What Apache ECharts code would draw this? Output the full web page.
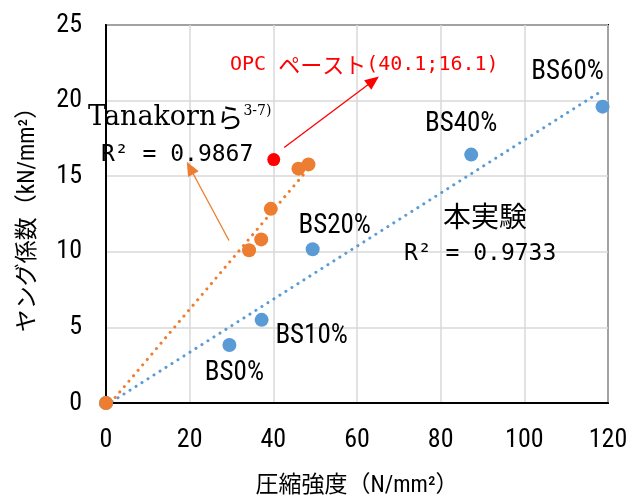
<!DOCTYPE html>
<html>
<head>
<meta charset="utf-8">
<script src="https://cdn.jsdelivr.net/npm/echarts@6/dist/echarts.min.js"></script>
<style>
  html, body { margin: 0; padding: 0; background: #ffffff; }
  #chart { width: 634px; height: 503px; }
</style>
</head>
<body>
<div id="chart"></div>
<script>
// Compressive strength (N/mm2) vs Young's modulus (kN/mm2)
const xTicks = [0, 20, 40, 60, 80, 100, 120];
const yTicks = [0, 5, 10, 15, 20, 25];

// This study (BS replacement ratios), origin included in the fit
const studyNames    = ['', 'BS0%', 'BS10%', 'BS20%', 'BS40%', 'BS60%'];
const studyStrength = [0, 29.5, 37.2, 49.4, 87.3, 118.7];
const studyModulus  = [0, 3.84, 5.5, 10.17, 16.43, 19.6];

// Tanakorn et al. reference data
const refStrength = [0, 34.2, 37.1, 39.4, 46.0, 48.4];
const refModulus  = [0, 10.1, 10.82, 12.84, 15.5, 15.78];

// OPC paste
const opcStrength = [40.1];
const opcModulus  = [16.1];

// Linear trend lines (end points)
const studyTrendX = [0, 118.7];
const studyTrendY = [-0.16, 20.67];
const refTrendX   = [0, 48.4];
const refTrendY   = [-0.35, 15.5];

const BLUE = '#5B9BD5';
const ORANGE = '#ED7D31';
const RED = '#FF0000';
const NUM_FONT = "'Liberation Sans Narrow', 'Roboto Condensed', Roboto, sans-serif";
const CJK_FONT = "'Noto Sans CJK JP', sans-serif";
const MONO_FONT = "'DejaVu Sans Mono', monospace";

const zip = (xs, ys) => xs.map((x, i) => [x, ys[i]]);

// label offsets for the BS points
const bsLabelOffsets = [[0, 0], [5, 28], [50, 16], [22, -23], [-10, -30], [-35, -34]];

const studyData = studyStrength.map((x, i) => ({
  value: [x, studyModulus[i]],
  label: {
    show: studyNames[i] !== '',
    formatter: studyNames[i],
    position: 'inside',
    offset: bsLabelOffsets[i]
  }
}));

const chart = echarts.init(document.getElementById('chart'), null, { renderer: 'canvas' });

const option = {
  backgroundColor: '#ffffff',
  animation: false,
  grid: {
    left: 106, right: 26, top: 25, bottom: 92,
    show: true, borderColor: '#000000', borderWidth: 2
  },
  xAxis: {
    type: 'value',
    min: xTicks[0], max: xTicks[xTicks.length - 1], interval: 20,
    name: '圧縮強度（N/mm²）',
    nameLocation: 'middle',
    nameGap: 72,
    nameTextStyle: { fontFamily: NUM_FONT + ", " + CJK_FONT, fontSize: 23, color: '#000' },
    axisLine: { show: true, onZero: false, lineStyle: { color: '#000', width: 2 } },
    axisTick: { show: false },
    axisLabel: { fontFamily: NUM_FONT, fontSize: 26, color: '#000', margin: 24 },
    splitLine: { show: true, lineStyle: { color: '#D9D9D9', width: 1.5 } }
  },
  yAxis: {
    type: 'value',
    min: yTicks[0], max: yTicks[yTicks.length - 1], interval: 5,
    name: 'ヤング係数（kN/mm²）',
    nameLocation: 'middle',
    nameGap: 66,
    nameTextStyle: { fontFamily: NUM_FONT + ", " + CJK_FONT, fontSize: 23, color: '#000' },
    axisLine: { show: true, onZero: false, lineStyle: { color: '#000', width: 2 } },
    axisTick: { show: false },
    axisLabel: { fontFamily: NUM_FONT, fontSize: 26, color: '#000', margin: 24 },
    splitLine: { show: true, lineStyle: { color: '#D9D9D9', width: 1.5 } }
  },
  series: [
    {
      name: 'studyTrend',
      type: 'line',
      data: zip(studyTrendX, studyTrendY),
      symbol: 'none',
      clip: true,
      lineStyle: { color: BLUE, width: 3, type: [0.1, 7], cap: 'round' },
      z: 2
    },
    {
      name: 'refTrend',
      type: 'line',
      data: zip(refTrendX, refTrendY),
      symbol: 'none',
      clip: true,
      lineStyle: { color: ORANGE, width: 3, type: [0.1, 7], cap: 'round' },
      z: 2
    },
    {
      name: '本実験',
      type: 'scatter',
      data: studyData,
      symbolSize: 14,
      itemStyle: { color: BLUE, opacity: 1 },
      label: { color: '#000', fontFamily: NUM_FONT, fontSize: 27 },
      z: 3
    },
    {
      name: 'Tanakorn',
      type: 'scatter',
      data: zip(refStrength, refModulus),
      symbolSize: 14,
      itemStyle: { color: ORANGE, opacity: 1 },
      z: 4,
      markLine: {
        silent: true,
        symbol: ['none', 'triangle'],
        symbolSize: [12, 14],
        label: { show: false },
        lineStyle: { color: ORANGE, width: 1.3, type: 'solid' },
        data: [[{ coord: [29.4, 10.75] }, { coord: [20.1, 15.54] }]]
      }
    },
    {
      name: 'OPC',
      type: 'scatter',
      data: zip(opcStrength, opcModulus),
      symbolSize: 13,
      itemStyle: { color: RED, opacity: 1 },
      z: 4,
      markLine: {
        silent: true,
        symbol: ['none', 'triangle'],
        symbolSize: [12, 14],
        label: { show: false },
        lineStyle: { color: RED, width: 1.3, type: 'solid' },
        data: [[{ coord: [42.6, 16.9] }, { coord: [63.9, 21.31] }]]
      }
    }
  ],
  graphic: [
    {
      type: 'text', left: 230, top: 54, z: 10,
      style: {
        text: '{a|OPC }{b|ペースト}{a|(40.1;16.1)}',
        rich: {
          a: { fontFamily: MONO_FONT, fontSize: 20, fill: RED },
          b: { fontFamily: CJK_FONT, fontSize: 22, fill: RED }
        }
      }
    },
    {
      type: 'text', left: 88, top: 104, z: 10,
      style: {
        text: '{a|Tanakorn}{b|ら}{c|3-7)}',
        rich: {
          a: { fontFamily: "'DejaVu Serif', serif", fontSize: 27, fill: '#000' },
          b: { fontFamily: CJK_FONT, fontSize: 27, fill: '#000' },
          c: { fontFamily: "'DejaVu Serif', serif", fontSize: 14, fill: '#000', verticalAlign: 'top' }
        }
      }
    },
    {
      type: 'text', left: 101, top: 144, z: 10,
      style: { text: 'R² = 0.9867', fontFamily: MONO_FONT, fontSize: 23, fill: '#000' }
    },
    {
      type: 'text', left: 443, top: 202, z: 10,
      style: { text: '本実験', fontFamily: CJK_FONT, fontSize: 28, fill: '#000' }
    },
    {
      type: 'text', left: 404, top: 243, z: 10,
      style: { text: 'R² = 0.9733', fontFamily: MONO_FONT, fontSize: 23, fill: '#000' }
    }
  ]
};

chart.setOption(option);
</script>
</body>
</html>
